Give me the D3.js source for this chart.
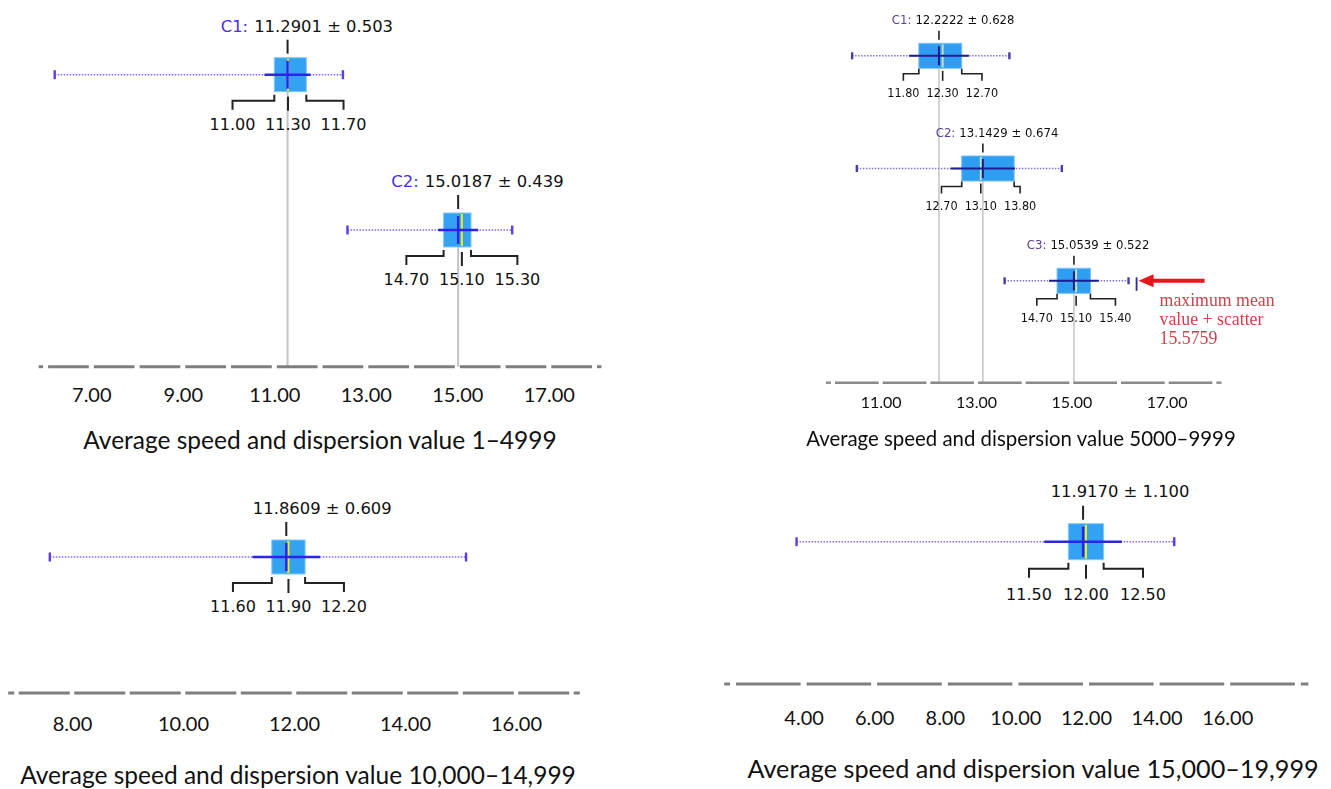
<!DOCTYPE html>
<html>
<head>
<meta charset="utf-8">
<script src="https://cdn.jsdelivr.net/npm/d3@7"></script>
<style>
  html, body { margin: 0; padding: 0; background: #ffffff; }
  svg { display: block; }
</style>
</head>
<body>
<svg id="chart" width="1331" height="789"></svg>
<script>
// ---------- Range 1–4999 ----------
const p1Clusters = ["C1", "C2"];
const p1Mean     = [11.2901, 15.0187];
const p1Sd       = [0.503, 0.439];
const p1Q1       = [11.00, 14.70];
const p1Median   = [11.30, 15.10];
const p1Q3       = [11.70, 15.30];
const p1Min      = [6.2, 12.6];
const p1Max      = [12.5, 16.2];
const p1Ticks    = [7, 9, 11, 13, 15, 17];
const p1Title    = "Average speed and dispersion value 1\u20134999";

// ---------- Range 5000–9999 ----------
const p2Clusters = ["C1", "C2", "C3"];
const p2Mean     = [12.2222, 13.1429, 15.0539];
const p2Sd       = [0.628, 0.674, 0.522];
const p2Q1       = [11.80, 12.70, 14.70];
const p2Median   = [12.30, 13.10, 15.10];
const p2Q3       = [12.70, 13.80, 15.40];
const p2Min      = [10.4, 10.5, 13.6];
const p2Max      = [13.7, 14.8, 16.2];
const p2Ticks    = [11, 13, 15, 17];
const p2Title    = "Average speed and dispersion value 5000\u20139999";
const p2NoteText = ["maximum mean", "value + scatter"];

// ---------- Range 10,000–14,999 ----------
const p3Clusters = [""];
const p3Mean     = [11.8609];
const p3Sd       = [0.609];
const p3Q1       = [11.60];
const p3Median   = [11.90];
const p3Q3       = [12.20];
const p3Min      = [7.6];
const p3Max      = [15.1];
const p3Ticks    = [8, 10, 12, 14, 16];
const p3Title    = "Average speed and dispersion value 10,000\u201314,999";

// ---------- Range 15,000–19,999 ----------
const p4Clusters = [""];
const p4Mean     = [11.9170];
const p4Sd       = [1.100];
const p4Q1       = [11.50];
const p4Median   = [12.00];
const p4Q3       = [12.50];
const p4Min      = [3.8];
const p4Max      = [14.5];
const p4Ticks    = [4, 6, 8, 10, 12, 14, 16];
const p4Title    = "Average speed and dispersion value 15,000\u201319,999";

const fmt2 = d3.format(".2f");
const fmt3 = d3.format(".3f");
const fmt4 = d3.format(".4f");

const svg = d3.select("#chart");
const defs = svg.append("defs");
defs.append("filter").attr("id", "soft")
  .append("feGaussianBlur").attr("stdDeviation", 0.55);

function zipRows(clusters, mean, sd, q1, med, q3, mn, mx) {
  return clusters.map((c, i) => ({
    name: c, mean: mean[i], sd: sd[i], q1: q1[i], median: med[i], q3: q3[i], min: mn[i], max: mx[i]
  }));
}

function drawPanel(cfg, rows, ticks, title) {
  const g = svg.append("g");
  if (cfg.soft) g.attr("filter", "url(#soft)");
  const x = d3.scaleLinear().domain(cfg.domain).range(cfg.range);

  // guide lines from each mean down to the axis
  if (cfg.guides) {
    g.selectAll("line.guide").data(rows).join("line")
      .attr("x1", d => x(d.mean)).attr("x2", d => x(d.mean))
      .attr("y1", (d, i) => cfg.rowsY[i]).attr("y2", cfg.axisY)
      .attr("stroke", cfg.guideColor).attr("stroke-width", cfg.guideWidth);
  }

  // dashed baseline, broken at every step
  const step = cfg.dashStep;
  const bounds = [cfg.lineFrom]
    .concat(d3.range(Math.ceil(cfg.lineFrom / step) * step, cfg.lineTo + 1e-9, step))
    .concat([cfg.lineTo]);
  const segs = [];
  for (let i = 0; i < bounds.length - 1; i++) {
    const a = x(bounds[i]) + (i === 0 ? 0 : cfg.gap / 2);
    const b = x(bounds[i + 1]) - (i === bounds.length - 2 ? 0 : cfg.gap / 2);
    if (b > a) segs.push([a, b]);
  }
  g.selectAll("line.base").data(segs).join("line")
    .attr("x1", d => d[0]).attr("x2", d => d[1])
    .attr("y1", cfg.axisY).attr("y2", cfg.axisY)
    .attr("stroke", cfg.axisColor).attr("stroke-width", cfg.axisWidth);

  // tick labels
  const ax = g.append("g").attr("transform", `translate(0,${cfg.axisY})`)
    .call(d3.axisBottom(x).tickValues(ticks).tickSize(0).tickFormat(fmt2));
  ax.select(".domain").remove();
  ax.selectAll("text")
    .attr("dy", null).attr("y", cfg.tickLabelY)
    .attr("fill", "#111")
    .style("font-family", "Lato, 'Open Sans', sans-serif")
    .style("font-size", cfg.tickFont + "px");

  // title
  g.append("text").attr("x", cfg.titleX).attr("y", cfg.titleY)
    .attr("text-anchor", "middle").attr("fill", "#111")
    .style("font-family", "Lato, 'Open Sans', sans-serif")
    .style("font-size", cfg.titleFont + "px")
    .text(title);

  rows.forEach((d, i) => {
    const cy = cfg.rowsY[i];
    const h = cfg.boxH;
    const r = g.append("g");

    // min–max whisker (dotted)
    r.append("line").attr("x1", x(d.min)).attr("x2", x(d.max))
      .attr("y1", cy).attr("y2", cy)
      .attr("stroke", cfg.whiskerColor).attr("stroke-width", 1.4)
      .attr("stroke-dasharray", "1.5,1.5");
    [d.min, d.max].forEach(v => {
      r.append("line").attr("x1", x(v)).attr("x2", x(v))
        .attr("y1", cy - cfg.capH / 2).attr("y2", cy + cfg.capH / 2)
        .attr("stroke", cfg.capColor).attr("stroke-width", 2.4);
    });

    // interquartile box
    r.append("rect").attr("x", x(d.q1)).attr("y", cy - h / 2)
      .attr("width", x(d.q3) - x(d.q1)).attr("height", h)
      .attr("fill", cfg.boxFill).attr("stroke", cfg.boxStroke).attr("stroke-width", 1);

    // median
    r.append("line").attr("x1", x(d.median)).attr("x2", x(d.median))
      .attr("y1", cy - h / 2 + 1).attr("y2", cy + h / 2 - 1)
      .attr("stroke", cfg.medianColor).attr("stroke-width", 2);

    // mean ± standard deviation
    r.append("line").attr("x1", x(d.mean - d.sd)).attr("x2", x(d.mean + d.sd))
      .attr("y1", cy).attr("y2", cy)
      .attr("stroke", cfg.sdColor).attr("stroke-width", cfg.sdWidth);
    r.append("line").attr("x1", x(d.mean)).attr("x2", x(d.mean))
      .attr("y1", cy - h / 2 + 3).attr("y2", cy + h / 2 - 3)
      .attr("stroke", cfg.sdColor).attr("stroke-width", cfg.sdWidth);

    // pointer above the box
    r.append("line").attr("x1", x(d.mean)).attr("x2", x(d.mean))
      .attr("y1", cy + cfg.topTick[0]).attr("y2", cy + cfg.topTick[1])
      .attr("stroke", "#222").attr("stroke-width", cfg.bracketWidth);

    // brackets to the quartile labels
    const lx = x(d.median) - cfg.labelSpread;
    const rx = x(d.median) + cfg.labelSpread;
    const b = cfg.bracket;
    r.append("path")
      .attr("d", `M${x(d.q1)},${cy + b[0]}V${cy + b[1]}H${lx}V${cy + b[2]}`)
      .attr("fill", "none").attr("stroke", "#222").attr("stroke-width", cfg.bracketWidth);
    r.append("path")
      .attr("d", `M${x(d.q3)},${cy + b[0]}V${cy + b[1]}H${rx}V${cy + b[2]}`)
      .attr("fill", "none").attr("stroke", "#222").attr("stroke-width", cfg.bracketWidth);
    r.append("line").attr("x1", x(d.median)).attr("x2", x(d.median))
      .attr("y1", cy + cfg.midTick[0]).attr("y2", cy + cfg.midTick[1])
      .attr("stroke", "#222").attr("stroke-width", cfg.bracketWidth);

    const qLabels = [[lx, d.q1], [x(d.median), d.median], [rx, d.q3]];
    qLabels.forEach(([px, v]) => {
      r.append("text").attr("x", px).attr("y", cy + cfg.qLabelY)
        .attr("text-anchor", "middle").attr("fill", "#111")
        .style("font-family", cfg.labelFamily).style("font-stretch", cfg.labelStretch)
        .style("font-size", cfg.qFont + "px")
        .text(fmt2(v));
    });

    // mean ± sd label with optional cluster name
    const t = r.append("text").attr("x", x(d.mean) + cfg.labelDx).attr("y", cy + cfg.topLabelY)
      .attr("text-anchor", "middle").attr("fill", "#111")
      .style("font-family", cfg.labelFamily).style("font-stretch", cfg.labelStretch)
      .style("font-size", cfg.topFont + "px")
      .text(`${fmt4(d.mean)} \u00b1 ${fmt3(d.sd)}`);
    if (d.name) {
      const bb = t.node().getBBox();
      r.append("text").attr("x", bb.x - cfg.prefixGap).attr("y", cy + cfg.topLabelY)
        .attr("text-anchor", "end").attr("fill", cfg.prefixColor)
        .style("font-family", cfg.labelFamily).style("font-stretch", cfg.labelStretch)
        .style("font-size", cfg.topFont + "px")
        .text(d.name + ":");
    }
  });
  return { g, x };
}

const wide = {
  soft: false, guides: true, guideColor: "#c4c4c4", guideWidth: 2,
  gap: 5, axisColor: "#7f7f7f", axisWidth: 3,
  tickFont: 20, titleFont: 24.5,
  boxH: 34, capH: 9,
  whiskerColor: "#7a6cf4", capColor: "#5a3cf0",
  boxFill: "#33a2f3", boxStroke: "#86c8f8",
  medianColor: "#f2f000", sdColor: "#2d22ee", sdWidth: 2.4,
  topTick: [-35, -21], bracket: [20, 26, 35], midTick: [22, 36],
  bracketWidth: 2, labelSpread: 55.5,
  labelFamily: "'DejaVu Sans', Verdana, sans-serif", labelStretch: "normal",
  qFont: 16, topFont: 16.4, qLabelY: 55, topLabelY: -43,
  labelDx: 36, prefixGap: 6, prefixColor: "#4a2ddb"
};

// 1–4999
drawPanel(Object.assign({}, wide, {
  domain: [7, 17], range: [91.3, 548.8], axisY: 366.7,
  lineFrom: 5.85, lineTo: 18.15, dashStep: 1,
  tickLabelY: 35.5, titleX: 320, titleY: 449,
  rowsY: [74.7, 230]
}), zipRows(p1Clusters, p1Mean, p1Sd, p1Q1, p1Median, p1Q3, p1Min, p1Max), p1Ticks, p1Title);

// 5000–9999
const pB = drawPanel(Object.assign({}, wide, {
  soft: true, guideColor: "#c8c8c8", guideWidth: 1.6,
  domain: [11, 17], range: [880.7, 1166.7], axisY: 382.7,
  lineFrom: 9.85, lineTo: 18.15, dashStep: 1, gap: 4, axisColor: "#8a8a8a", axisWidth: 2.4,
  tickFont: 16, titleFont: 20.4, tickLabelY: 25.5, titleX: 1021, titleY: 446,
  rowsY: [55.8, 168.5, 280.8], boxH: 25, capH: 7,
  whiskerColor: "#7d74c8", capColor: "#4a3aa8",
  boxFill: "#2f9df2", boxStroke: "#7cc0f4",
  medianColor: "#bfe4b0", sdColor: "#1d1d8e", sdWidth: 2,
  topTick: [-25, -16], bracket: [13, 18, 25], midTick: [15, 25],
  bracketWidth: 1.6, labelSpread: 39.3,
  labelFamily: "'DejaVu Sans Condensed', 'DejaVu Sans', sans-serif", labelStretch: "condensed",
  qFont: 12.5, topFont: 13, qLabelY: 41, topLabelY: -31.5,
  labelDx: 26, prefixGap: 4, prefixColor: "#5a3d9c"
}), zipRows(p2Clusters, p2Mean, p2Sd, p2Q1, p2Median, p2Q3, p2Min, p2Max), p2Ticks, p2Title);

// annotation on the highest cluster: mean + sd
(function () {
  const i = p2Mean.indexOf(d3.max(p2Mean));
  const cy = 280.8;
  const x = pB.x;
  const mx = x(p2Max[i]) + 8;
  const g = pB.g.append("g");
  g.append("line").attr("x1", mx).attr("x2", mx).attr("y1", cy - 3.5).attr("y2", cy + 10)
    .attr("stroke", "#2a2a9a").attr("stroke-width", 1.8);
  g.append("line").attr("x1", mx + 14).attr("x2", mx + 68).attr("y1", cy).attr("y2", cy)
    .attr("stroke", "#e8161c").attr("stroke-width", 4);
  g.append("path").attr("d", `M${mx + 2},${cy}L${mx + 17},${cy - 6.5}L${mx + 17},${cy + 6.5}Z`)
    .attr("fill", "#e8161c");
  const lines = p2NoteText.concat([fmt4(p2Mean[i] + p2Sd[i])]);
  g.selectAll("text.note").data(lines).join("text")
    .attr("x", mx + 23).attr("y", (d, k) => cy + 25 + k * 19)
    .attr("fill", "#cf3f4b")
    .style("font-family", "'Liberation Serif', 'DejaVu Serif', serif")
    .style("font-size", "17.8px")
    .text(d => d);
})();

// 10,000–14,999
drawPanel(Object.assign({}, wide, {
  guides: false,
  domain: [8, 16], range: [72, 516], axisY: 693,
  lineFrom: 6.85, lineTo: 17.15, dashStep: 1, gap: 4.5,
  tickLabelY: 38, titleX: 298, titleY: 784,
  rowsY: [557]
}), zipRows(p3Clusters, p3Mean, p3Sd, p3Q1, p3Median, p3Q3, p3Min, p3Max), p3Ticks, p3Title);

// 15,000–19,999
drawPanel(Object.assign({}, wide, {
  guides: false,
  domain: [4, 16], range: [803.6, 1227.2], axisY: 684,
  lineFrom: 1.75, lineTo: 18.3, dashStep: 2, gap: 6,
  tickLabelY: 41, titleX: 1033, titleY: 778, titleFont: 25.2,
  rowsY: [541.7], boxH: 36, labelSpread: 57, labelDx: 37,
  topTick: [-36, -22], bracket: [21, 27, 36], midTick: [23, 37], qLabelY: 58, topLabelY: -45
}), zipRows(p4Clusters, p4Mean, p4Sd, p4Q1, p4Median, p4Q3, p4Min, p4Max), p4Ticks, p4Title);
</script>
</body>
</html>
